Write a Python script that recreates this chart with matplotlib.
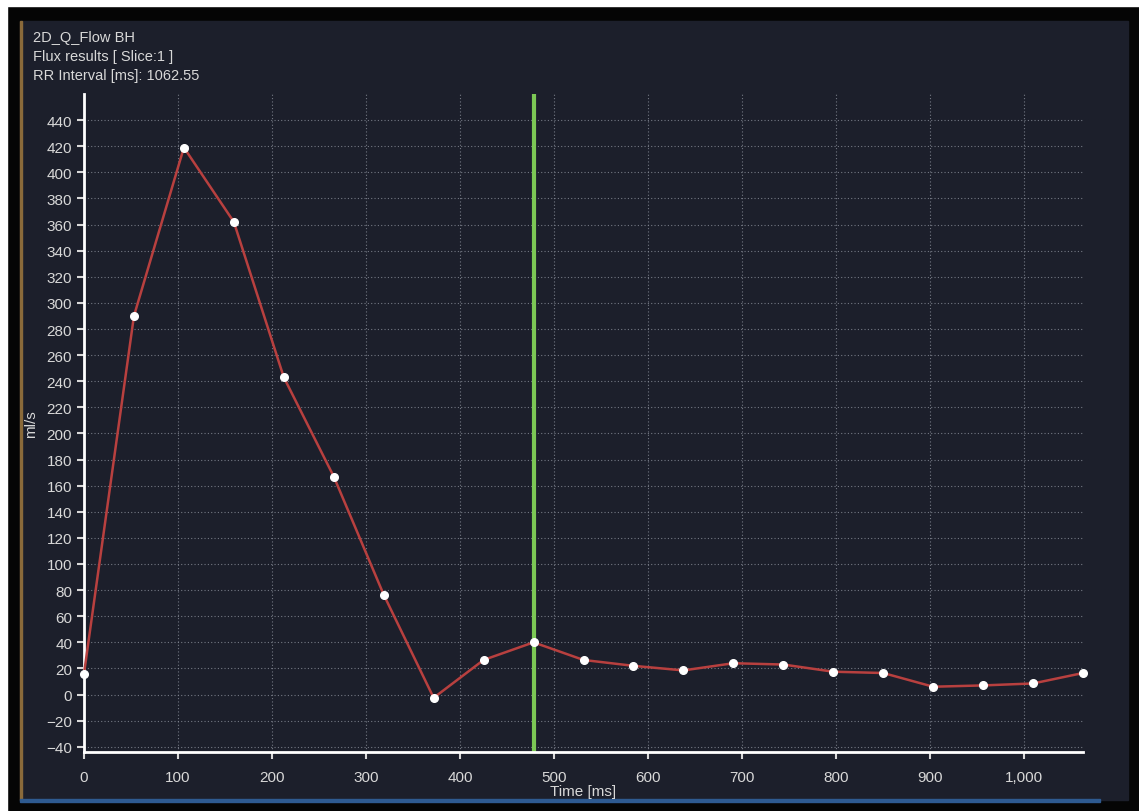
import matplotlib.pyplot as plt
import numpy as np
from matplotlib.patches import Rectangle
from matplotlib.ticker import FuncFormatter

rr_interval = 1062.55
flow = [16, 290, 419, 362, 243, 167, 76.5, -2.5, 26.5, 40, 26.5, 22, 18.5, 24, 23,
        17.5, 16.5, 6, 7, 8.5, 16.5]
time_ms = np.linspace(0, rr_interval, len(flow))
marker_idx = 9  # frame with the green cursor
header = ["2D_Q_Flow BH", "Flux results [ Slice:1 ]", "RR Interval [ms]: 1062.55"]

W, H = 1139, 812
fig = plt.figure(figsize=(W / 100, H / 100), dpi=100, facecolor="#050505")
plt.rcParams['font.family'] = ['Liberation Sans Narrow', 'Liberation Sans', 'DejaVu Sans']

bg = "#1c1f2b"
def box(x0, y0, x1, y1, color):
    # pixel box (top-left origin) -> figure patch behind the axes
    fig.patches.append(Rectangle((x0 / W, (H - y1) / H), (x1 - x0) / W, (y1 - y0) / H,
                                 transform=fig.transFigure, color=color, zorder=-10))

box(0, 0, W, 7, "white")
box(0, 0, 7, H, "white")
box(20, 22, 1128, 801, bg)
box(20, 22, 22, 801, "#8a6a3a")
box(20, 800, 1100, 803, "#2e5a90")

ax = fig.add_axes([84 / W, (H - 753) / H, (1083 - 84) / W, (753 - 95) / H])
ax.patch.set_alpha(0)

for i, line in enumerate(header):
    fig.text(33 / W, (H - 38 - 19 * i) / H, line, color="#d8d8d8", fontsize=10.5,
             va="center", ha="left")

ax.set_xlim(0, rr_interval)
ax.set_ylim(-44, 460)
ax.set_xticks(np.arange(0, 1001, 100))
ax.set_yticks(np.arange(-40, 441, 20))
ax.xaxis.set_major_formatter(FuncFormatter(lambda v, p: f"{int(v):,}"))

ax.grid(True, color="#8a8f9a", linestyle=(0, (1, 2)), linewidth=0.8, alpha=0.8)
ax.set_axisbelow(True)

for s in ["top", "right"]:
    ax.spines[s].set_visible(False)
for s in ["left", "bottom"]:
    ax.spines[s].set_color("white")
    ax.spines[s].set_linewidth(2)

ax.tick_params(colors="#d8d8d8", labelsize=11, length=5, width=1.5, direction="out")
ax.tick_params(axis="x", pad=8)

ax.axvline(time_ms[marker_idx], color="#7cc855", linewidth=3, zorder=2)
ax.plot(time_ms, flow, color="#b8403f", linewidth=1.8, zorder=3, clip_on=False)
ax.plot(time_ms, flow, "o", color="white", markersize=5.5, zorder=4, clip_on=False)

ax.set_xlabel("Time [ms]", color="#d8d8d8", fontsize=11, labelpad=0)
ax.set_ylabel("ml/s", color="#d8d8d8", fontsize=11, labelpad=6)

fig.savefig("out.png", dpi=100, facecolor=fig.get_facecolor())
